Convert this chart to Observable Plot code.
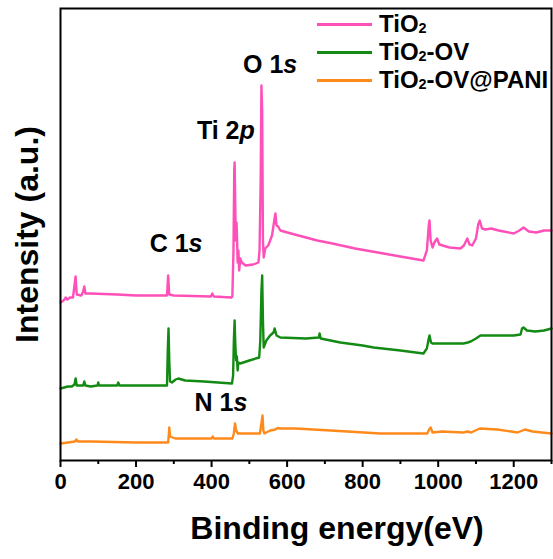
<!DOCTYPE html>
<html><head><meta charset="utf-8">
<script src="https://cdn.jsdelivr.net/npm/d3@7"></script>
<script src="https://cdn.jsdelivr.net/npm/@observablehq/plot@0.6"></script>
<style>
body{margin:0;background:#fff;}
#wrap{position:relative;width:553px;height:559px;font-family:"Liberation Sans",Arial,sans-serif;}
#legend{position:absolute;left:317px;top:10px;}
.row{display:flex;align-items:center;height:28px;font-size:24px;font-weight:bold;color:#000;white-space:nowrap;}
.sw{width:55px;height:3px;margin-right:7px;}
sub{font-size:0.6em;vertical-align:-0.1em;line-height:0}
</style></head><body><div id="wrap"><div id="legend"></div></div>
<script>
// x axis ticks
const xTicks = [0, 200, 400, 600, 800, 1000, 1200];
const xMinorTicks = [100, 300, 500, 700, 900, 1100, 1300];

// series
const seriesNames = ["TiO2", "TiO2-OV", "TiO2-OV@PANI"];
const seriesColors = ["#ff4fb8", "#138a13", "#ff8a1c"];

// [binding energy (eV), intensity (a.u., offset stacked)]
const tio2 = [[0,158],[8,160],[14,163],[18,161],[25,163],[33,163],[37,175],[40,184],[43,166],[55,165],[60,169],[63,174],[66,167],[80,167],[150,166],[200,165],[282,165],[285,185],[288,166],[300,165],[398,164],[402,167],[406,164],[452,163],[455,164],[458,210],[460,290],[461,298],[462,275],[464,220],[466,238],[467,228],[469,198],[471,210],[473,190],[476,202],[480,198],[490,195],[510,196],[524,198],[527,210],[530,280],[532,375],[534,350],[536,220],[538,203],[542,212],[550,215],[560,225],[566,240],[569,247],[572,235],[576,234],[582,230],[620,226],[680,220],[720,217],[780,212],[855,207],[900,204],[961,200],[970,210],[975,235],[977,240],[980,220],[985,213],[990,218],[997,222],[1003,216],[1030,213],[1059,212],[1068,215],[1077,222],[1083,216],[1090,215],[1100,222],[1106,236],[1110,240],[1116,232],[1125,231],[1140,232],[1160,230],[1200,227],[1215,230],[1226,233],[1240,229],[1260,228],[1280,230],[1300,230]];

const tio2OV = [[0,72],[10,73],[20,74],[30,74],[37,76],[40,82],[43,75],[60,75],[63,79],[66,75],[80,74],[98,75],[100,78],[102,75],[150,75],[153,78],[156,75],[200,75],[282,75],[284,110],[286,132],[288,100],[290,79],[295,78],[305,81],[312,82],[330,80],[380,79],[454,77],[457,85],[459,120],[461,140],[463,115],[465,100],[467,104],[469,90],[471,98],[476,97],[500,100],[526,103],[529,120],[532,170],[534,185],[536,140],[538,113],[545,120],[555,125],[564,128],[567,132],[572,125],[582,123],[650,122],[684,123],[686,127],[689,122],[741,118],[800,115],[829,113],[900,110],[961,107],[970,112],[975,122],[977,125],[981,118],[985,117],[1030,117],[1067,117],[1078,118],[1086,119],[1100,122],[1112,125],[1150,125],[1200,125],[1218,126],[1222,132],[1226,133],[1235,130],[1257,129],[1280,130],[1300,132]];

const tio2OVPani = [[0,17],[20,18],[38,19],[42,21],[46,19],[80,19],[200,18],[285,18],[287,27],[288,33],[290,24],[304,22],[400,22],[403,24],[406,22],[455,22],[459,27],[462,37],[465,30],[470,27],[476,27],[528,27],[531,35],[535,45],[537,30],[540,27],[555,30],[569,31],[575,32.5],[582,32],[622,32],[715,30],[847,27],[971,27],[976,31],[980,33],[985,28],[1010,29],[1067,28],[1077,29],[1087,28],[1110,32],[1157,31],[1210,28],[1230,31],[1250,29],[1300,27]];

// peak annotations: upright part, italic part, anchor eV, anchor intensity (baseline)
const peakUpright = ["O 1", "Ti 2", "C 1", "N 1"];
const peakItalic = ["s", "p", "s", "s"];
const peakEV = [590, 474, 339, 458];
const peakI = [388, 322, 209, 50];

const seriesData = [tio2, tio2OV, tio2OVPani];
const rows = [];
seriesData.forEach((arr, k) => arr.forEach(([e, v]) => rows.push({e, v, s: seriesNames[k]})));
const peaks = peakUpright.map((u, i) => ({u, it: peakItalic[i], e: peakEV[i], v: peakI[i]}));

const chart = Plot.plot({
  width: 553, height: 559,
  marginLeft: 60, marginRight: 2, marginTop: 8, marginBottom: 99,
  style: {fontFamily: '"Liberation Sans", Arial, sans-serif', background: "#fff", color: "#000"},
  x: {domain: [0, 1300]},
  y: {domain: [0, 452], axis: null},
  color: {domain: seriesNames, range: seriesColors},
  marks: [
    Plot.line(rows.filter(d => d.s === seriesNames[2]), {x: "e", y: "v", stroke: seriesColors[2], strokeWidth: 2.4}),
    Plot.line(rows.filter(d => d.s === seriesNames[1]), {x: "e", y: "v", stroke: seriesColors[1], strokeWidth: 2.4}),
    Plot.line(rows.filter(d => d.s === seriesNames[0]), {x: "e", y: "v", stroke: seriesColors[0], strokeWidth: 2.4}),
    Plot.frame({stroke: "#000", strokeWidth: 2}),
    Plot.axisX({ticks: xTicks, tickFormat: d => String(d), tickSize: 7, tickPadding: 6, fontSize: 22, fontWeight: "bold", label: null, strokeWidth: 2}),
    Plot.axisX({ticks: xMinorTicks, tickSize: 4, text: null, label: null, strokeWidth: 2}),
    Plot.text(peaks, {x: "e", y: "v", text: "u", textAnchor: "end", lineAnchor: "bottom", fontSize: 25, fontWeight: "bold", fill: "#000"}),
    Plot.text(peaks, {x: "e", y: "v", text: "it", textAnchor: "start", lineAnchor: "bottom", fontSize: 25, fontWeight: "bold", fontStyle: "italic", fill: "#000"}),
    Plot.text(["Binding energy(eV)"], {text: d => d, frameAnchor: "bottom", lineAnchor: "bottom", textAnchor: "middle", dy: 78, dx: 31, fontSize: 32, fontWeight: "bold", fill: "#000"}),
    Plot.text(["Intensity (a.u.)"], {text: d => d, frameAnchor: "left", textAnchor: "middle", lineAnchor: "middle", rotate: -90, dx: -33, fontSize: 32, fontWeight: "bold", fill: "#000"})
  ]
});
document.getElementById("wrap").prepend(chart);

const legend = document.getElementById("legend");
seriesNames.forEach((n, k) => {
  const row = document.createElement("div");
  row.className = "row";
  const sw = document.createElement("div");
  sw.className = "sw";
  sw.style.background = seriesColors[k];
  const label = document.createElement("span");
  label.innerHTML = n.replace("O2", "O<sub>2</sub>");
  row.append(sw, label);
  legend.append(row);
});
</script>
</body></html>
